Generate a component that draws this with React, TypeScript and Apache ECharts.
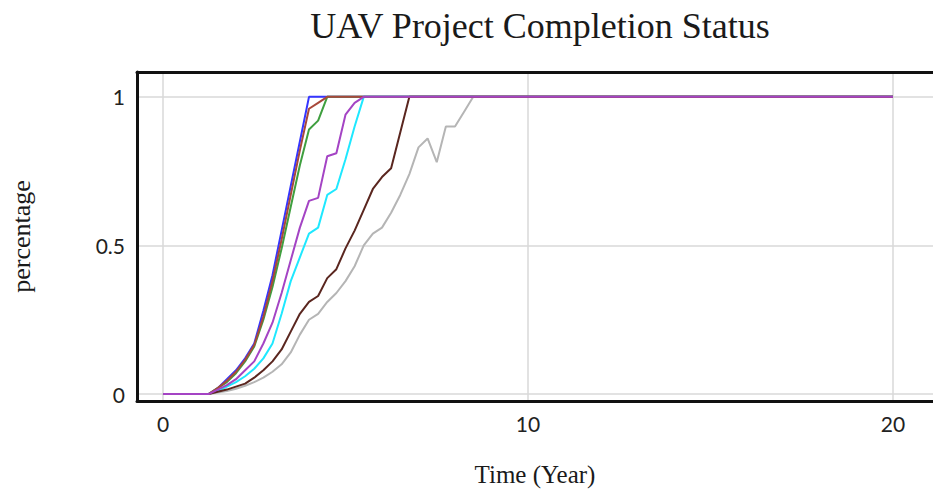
import React, { useEffect, useRef } from "react";
import * as echarts from "echarts";

const xTickValues = [0, 10, 20];
const yTickValues = [0, 0.5, 1];

const seriesNames = ["Blue", "Green", "Cyan", "Gray", "Dark Brown", "Rust", "Purple"];
const seriesColors = ["#3535ff", "#3f9f3f", "#1ee8ff", "#b5b5b5", "#5a261f", "#a8483a", "#a444c4"];

const blueData: [number, number][] = [
  [0, 0], [1.25, 0], [1.5, 0.02], [1.75, 0.05], [2, 0.08], [2.25, 0.12], [2.5, 0.17],
  [2.75, 0.28], [3, 0.4], [3.25, 0.55], [3.5, 0.7], [3.75, 0.85], [4, 1], [20, 1],
];
const greenData: [number, number][] = [
  [0, 0], [1.25, 0], [1.5, 0.02], [1.75, 0.04], [2, 0.07], [2.25, 0.11], [2.5, 0.16],
  [2.75, 0.25], [3, 0.36], [3.25, 0.49], [3.5, 0.63], [3.75, 0.77], [4, 0.89], [4.25, 0.92],
  [4.5, 1], [20, 1],
];
const cyanData: [number, number][] = [
  [0, 0], [1.25, 0], [1.5, 0.01], [1.75, 0.025], [2, 0.04], [2.25, 0.06], [2.5, 0.085],
  [2.75, 0.12], [3, 0.17], [3.25, 0.27], [3.5, 0.38], [3.75, 0.46], [4, 0.54], [4.25, 0.56],
  [4.5, 0.67], [4.75, 0.69], [5, 0.79], [5.25, 0.9], [5.5, 1], [20, 1],
];
const grayData: [number, number][] = [
  [0, 0], [1.25, 0], [1.5, 0.005], [1.75, 0.01], [2, 0.018], [2.25, 0.028], [2.5, 0.04],
  [2.75, 0.055], [3, 0.075], [3.25, 0.1], [3.5, 0.14], [3.75, 0.2], [4, 0.25], [4.25, 0.27],
  [4.5, 0.31], [4.75, 0.34], [5, 0.38], [5.25, 0.43], [5.5, 0.5], [5.75, 0.54], [6, 0.56],
  [6.25, 0.61], [6.5, 0.67], [6.75, 0.74], [7, 0.83], [7.25, 0.86], [7.5, 0.78], [7.75, 0.9],
  [8, 0.9], [8.25, 0.95], [8.5, 1], [20, 1],
];
const darkBrownData: [number, number][] = [
  [0, 0], [1.25, 0], [1.5, 0.008], [1.75, 0.015], [2, 0.025], [2.25, 0.035], [2.5, 0.055],
  [2.75, 0.08], [3, 0.11], [3.25, 0.15], [3.5, 0.21], [3.75, 0.27], [4, 0.31], [4.25, 0.33],
  [4.5, 0.39], [4.75, 0.42], [5, 0.49], [5.25, 0.55], [5.5, 0.62], [5.75, 0.69], [6, 0.73],
  [6.25, 0.76], [6.5, 0.88], [6.75, 1], [20, 1],
];
const rustData: [number, number][] = [
  [0, 0], [1.25, 0], [1.5, 0.02], [1.75, 0.045], [2, 0.075], [2.25, 0.115], [2.5, 0.165],
  [2.75, 0.26], [3, 0.38], [3.25, 0.52], [3.5, 0.67], [3.75, 0.82], [4, 0.96], [4.25, 0.98],
  [4.5, 1], [20, 1],
];
const purpleData: [number, number][] = [
  [0, 0], [1.25, 0], [1.5, 0.015], [1.75, 0.03], [2, 0.05], [2.25, 0.08], [2.5, 0.11],
  [2.75, 0.17], [3, 0.24], [3.25, 0.34], [3.5, 0.45], [3.75, 0.56], [4, 0.65], [4.25, 0.66],
  [4.5, 0.8], [4.75, 0.81], [5, 0.94], [5.25, 0.98], [5.5, 1], [20, 1],
];

const allData = [blueData, greenData, cyanData, grayData, darkBrownData, rustData, purpleData];

export default function App() {
  const ref = useRef<HTMLDivElement>(null);
  useEffect(() => {
    if (!ref.current) return;
    const chart = echarts.init(ref.current, null, { renderer: "svg" });
    const serif = "'Liberation Serif', 'Times New Roman', serif";
    const labelFont = "Lato, 'Open Sans', sans-serif";
    const frameLine = { show: true, onZero: false, lineStyle: { color: "#111111", width: 3 } };
    const xMin = -0.712;
    const xMax = 21.096;
    chart.setOption({
      animation: false,
      backgroundColor: "#ffffff",
      title: {
        text: "UAV Project Completion Status",
        left: 535,
        textAlign: "center",
        top: 3,
        textStyle: { fontFamily: serif, fontSize: 36, fontWeight: "normal", color: "#1a1a1a" },
      },
      grid: {
        left: 137,
        top: 72,
        width: 796,
        height: 330,
        show: false,
      },
      xAxis: [
        {
          type: "value",
          min: xMin,
          max: xMax,
          position: "bottom",
          name: "Time (Year)",
          nameLocation: "middle",
          nameGap: 61,
          nameTextStyle: { fontFamily: serif, fontSize: 25, color: "#1a1a1a" },
          axisLine: frameLine,
          axisTick: { show: false, customValues: xTickValues },
          axisLabel: {
            customValues: xTickValues,
            margin: 12,
            fontFamily: labelFont,
            fontSize: 21,
            color: "#222222",
          },
          splitLine: { show: true, lineStyle: { color: "#d9d9d9", width: 1.5 } },
        },
        {
          type: "value",
          min: xMin,
          max: xMax,
          position: "top",
          axisLine: frameLine,
          axisTick: { show: false },
          axisLabel: { show: false },
          splitLine: { show: false },
        },
      ],
      yAxis: {
        type: "value",
        min: -0.0234,
        max: 1.0836,
        name: "percentage",
        nameLocation: "middle",
        nameRotate: 90,
        nameGap: 103,
        nameTextStyle: { fontFamily: serif, fontSize: 26, color: "#1a1a1a" },
        axisLine: frameLine,
        axisTick: { show: false, customValues: yTickValues },
        axisLabel: {
          customValues: yTickValues,
          margin: 12,
          fontFamily: labelFont,
          fontSize: 21,
          color: "#222222",
        },
        splitLine: { show: true, lineStyle: { color: "#d9d9d9", width: 1.5 } },
      },
      series: seriesNames.map((name, i) => ({
        name,
        type: "line",
        xAxisIndex: 0,
        data: allData[i],
        showSymbol: false,
        symbol: "none",
        lineStyle: { color: seriesColors[i], width: 2 },
        itemStyle: { color: seriesColors[i] },
        z: 2 + i,
      })),
    });
    return () => chart.dispose();
  }, []);
  return (
    <div
      ref={ref}
      style={{ position: "fixed", left: 0, top: 0, width: 933, height: 492, background: "#fff" }}
    />
  );
}
